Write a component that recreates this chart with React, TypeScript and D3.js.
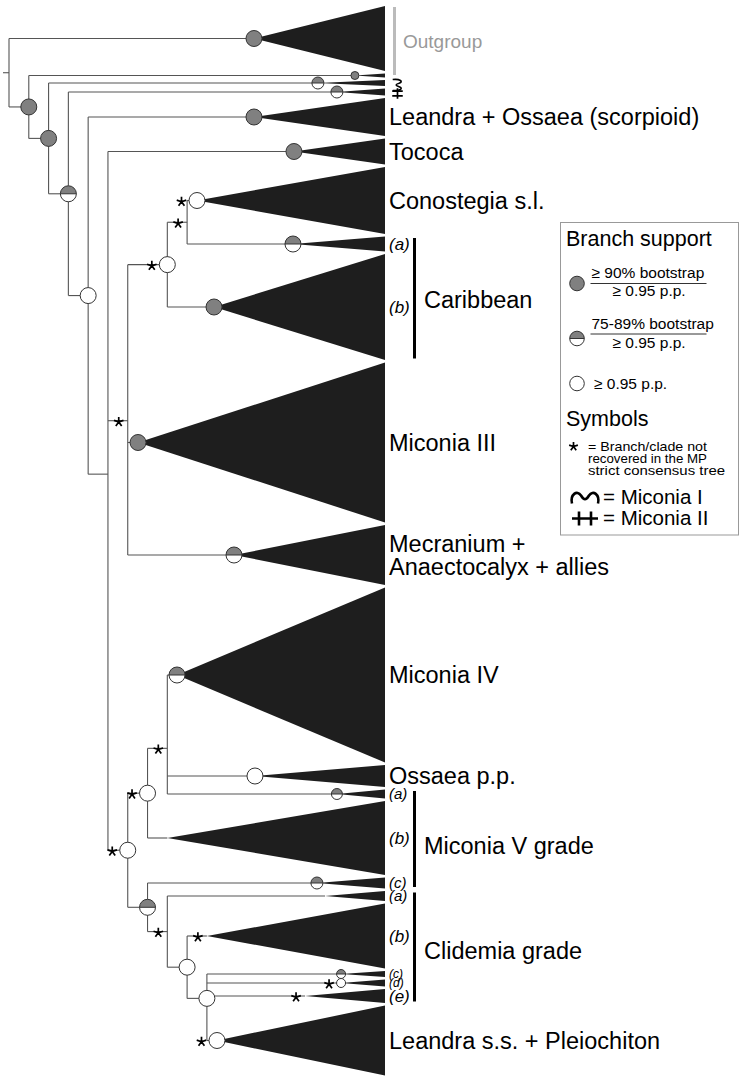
import React from "react";
import * as d3 from "d3";

const W = 744;
const H = 1083;
const FONT = "'Liberation Sans', Arial, Helvetica, sans-serif";

// ---- collapsed clades, top to bottom ----
const cladeIds = ["thin", "micI", "micII", "leandraScorp", "tococa", "conostegia", "caribA", "caribB", "micIII", "mecranium", "micIV", "ossaea", "micVa", "micVb", "micVc", "clidA", "clidB", "clidC", "clidD", "clidE", "leandraSS"];
const cladeParents = ["A", "B", "C", "D", "E", "Q", "Q", "P", "G", "G", "K", "K", "K", "I", "J", "L", "M", "N", "N", "N", "N"];
const cladeSizes = [4, 6, 7, 38, 26, 67, 15, 106, 160, 60, 175, 22, 9, 74, 11, 10, 65, 6, 7, 14, 70];
const cladeEnds = [17.48, 15.61, 16.57, 12.38, 14.4, 9.5, 14.35, 10.36, 6.52, 11.37, 8.49, 12.43, 16.57, 8.0, 15.56, 15.97, 10.0, 16.78, 16.78, 14.96, 10.51];
const cladeSupport = ["bs90", "bs75", "bs75", "bs90", "bs90", "pp", "bs75", "bs90", "bs90", "bs75", "bs75", "pp", "bs75", "", "bs75", "", "", "bs75", "pp", "", "pp"];
const cladeRadius = [4, 6, 6, 8, 8, 8, 8, 8, 8, 8, 8, 8, 5.5, 0, 6, 0, 0, 4.5, 4.5, 0, 8];
const cladeStar = [0, 0, 0, 0, 0, 1, 0, 0, 0, 0, 0, 0, 0, 0, 0, 0, 1, 0, 1, 1, 1];

// outgroup (first clade, attached to the root)
const outgroupSize = 65;
const outgroupEnd = 12.38;

// ---- internal nodes ----
const nodeIds = ["root", "A", "B", "C", "D", "E", "G", "P", "Q", "H", "I", "K", "J", "L", "M", "N"];
const nodeParents = ["", "root", "A", "B", "C", "D", "E", "G", "P", "E", "H", "I", "H", "J", "L", "M"];
const nodeLevels = [0, 1, 2, 3, 4, 5, 6, 8, 9, 6, 7, 8, 7, 8, 9, 10];
const nodeSupport = ["", "bs90", "bs90", "bs75", "pp", "", "", "pp", "", "pp", "pp", "", "bs75", "", "pp", "pp"];
const nodeStar = [0, 0, 0, 0, 0, 0, 1, 1, 1, 1, 1, 1, 0, 1, 0, 0];

// ---- labels ----
const labelClades = ["leandraScorp", "tococa", "conostegia", "micIII", "mecranium", "micIV", "ossaea", "leandraSS"];
const labelTexts = [["Leandra + Ossaea (scorpioid)"], ["Tococa"], ["Conostegia s.l."], ["Miconia III"], ["Mecranium +", "Anaectocalyx + allies"], ["Miconia IV"], ["Ossaea p.p."], ["Leandra s.s. + Pleiochiton"]];

const groupNames = ["Caribbean", "Miconia V grade", "Clidemia grade"];
const groupMembers = [["caribA", "caribB"], ["micVa", "micVb", "micVc"], ["clidA", "clidB", "clidC", "clidD", "clidE"]];
const groupSubLabels = [["(a)", "(b)"], ["(a)", "(b)", "(c)"], ["(a)", "(b)", "(c)", "(d)", "(e)"]];
const groupSubSizes = [[17, 17], [15, 17, 15], [15, 17, 12, 12, 17]];
const groupLabelShift = [2, 7, 4];

const GAP = 2.5;
const GREY = "#808080";
const MAIN_FS = 23.5;

function Support({ cx, cy, r, kind }: { cx: number; cy: number; r: number; kind: string }) {
  if (!kind || r <= 0) return null;
  if (kind === "bs90") return <circle cx={cx} cy={cy} r={r} fill={GREY} stroke="#333" strokeWidth={1} />;
  if (kind === "pp") return <circle cx={cx} cy={cy} r={r} fill="#fff" stroke="#333" strokeWidth={1} />;
  return (
    <g>
      <circle cx={cx} cy={cy} r={r} fill="#fff" />
      <path d={`M${cx - r},${cy} A${r},${r} 0 0 1 ${cx + r},${cy} Z`} fill={GREY} />
      <line x1={cx - r} x2={cx + r} y1={cy} y2={cy} stroke="#333" strokeWidth={1} />
      <circle cx={cx} cy={cy} r={r} fill="none" stroke="#333" strokeWidth={1} />
    </g>
  );
}

function Star({ x, y, s = 5 }: { x: number; y: number; s?: number }) {
  const d = [0, 72, 144, 216, 288]
    .map((a) => {
      const t = ((a - 90) * Math.PI) / 180;
      return `M${x},${y} L${x + s * Math.cos(t)},${y + s * Math.sin(t)}`;
    })
    .join(" ");
  return <path d={d} stroke="#000" strokeWidth={1.7} strokeLinecap="butt" fill="none" />;
}

const sym1 = "M-13,6 C-15,-3 -8,-8 -4,-2 C-1,3 1,3 4,-2 C8,-8 15,-3 13,6";
const sym2 = "M-13,0 H13 M-6,-7 V7 M6,-7 V7";

function Sym({ d, x, y, sx, sy, rot, sw }: { d: string; x: number; y: number; sx: number; sy: number; rot: number; sw: number }) {
  return (
    <path
      d={d}
      transform={`translate(${x},${y}) rotate(${rot}) scale(${sx},${sy})`}
      fill="none"
      stroke="#000"
      strokeWidth={sw}
      vectorEffect="non-scaling-stroke"
    />
  );
}

export default function App() {
  const allSizes = [outgroupSize, ...cladeSizes];
  const totalUnits = d3.sum(allSizes) + GAP * (allSizes.length - 1);
  const y = d3.scaleLinear().domain([0, totalUnits]).range([6, 6 + totalUnits]);
  const x = d3.scaleLinear().domain([0, 19]).range([9, 385]);
  const baseX = x(19);

  const tops: number[] = [];
  let acc = 0;
  allSizes.forEach((s) => {
    tops.push(acc);
    acc += s + GAP;
  });

  const rows: any[] = [];
  nodeIds.forEach((id, i) =>
    rows.push({ id, parent: nodeParents[i] || null, tip: false, level: nodeLevels[i], support: nodeSupport[i], r: nodeSupport[i] ? 8 : 0, star: nodeStar[i] })
  );
  rows.push({ id: "outgroup", parent: "root", tip: true, end: outgroupEnd, top: tops[0], size: outgroupSize, support: "bs90", r: 8, star: 0 });
  cladeIds.forEach((id, i) =>
    rows.push({ id, parent: cladeParents[i], tip: true, end: cladeEnds[i], top: tops[i + 1], size: cladeSizes[i], support: cladeSupport[i], r: cladeRadius[i], star: cladeStar[i] })
  );

  const root = d3.stratify<any>().id((d) => d.id).parentId((d) => d.parent)(rows);
  const pos: Record<string, { x: number; y: number; y0?: number; y1?: number }> = {};
  root.eachAfter((n: any) => {
    const d = n.data;
    if (d.tip) {
      const y0 = y(d.top);
      const y1 = y(d.top + d.size);
      pos[d.id] = { x: x(d.end), y: (y0 + y1) / 2, y0, y1 };
    } else {
      pos[d.id] = { x: x(d.level), y: d3.mean(n.children, (c: any) => pos[c.data.id].y) as number };
    }
  });

  const nodes = root.descendants();
  const lineColor = "#555";

  return (
    <svg width={W} height={H} style={{ position: "absolute", left: 0, top: 0, background: "#fff" }} fontFamily={FONT}>
      <rect width={W} height={H} fill="#fff" />
      {/* branches */}
      <g stroke={lineColor} strokeWidth={1.1} fill="none">
        <line x1={pos.root.x - 6} x2={pos.root.x} y1={pos.root.y} y2={pos.root.y} />
        {nodes.map((n: any) => {
          const p = pos[n.data.id];
          const segs = [];
          if (n.parent) {
            const pp = pos[n.parent.data.id];
            segs.push(<line key="h" x1={pp.x} x2={p.x} y1={p.y} y2={p.y} />);
          }
          if (n.children) {
            const ys = n.children.map((c: any) => pos[c.data.id].y);
            segs.push(<line key="v" x1={p.x} x2={p.x} y1={d3.min(ys)} y2={d3.max(ys)} />);
          }
          return <g key={n.data.id}>{segs}</g>;
        })}
      </g>
      {/* collapsed clades */}
      <g fill="#1e1e1e">
        {nodes
          .filter((n: any) => n.data.tip)
          .map((n: any) => {
            const p = pos[n.data.id];
            return <path key={n.data.id} d={`M${p.x},${p.y} L${baseX},${p.y0} L${baseX},${p.y1} Z`} />;
          })}
      </g>
      {/* support symbols */}
      {nodes.map((n: any) => {
        const p = pos[n.data.id];
        return <Support key={n.data.id} cx={p.x} cy={p.y} r={n.data.r} kind={n.data.support} />;
      })}
      {/* asterisks */}
      {nodes
        .filter((n: any) => n.data.star)
        .map((n: any) => {
          const p = pos[n.data.id];
          const off = n.data.r > 0 ? n.data.r + 7.5 : 9;
          return <Star key={n.data.id} x={p.x - off} y={p.y + 1.2} />;
        })}

      {/* Outgroup label */}
      <line x1={394.5} x2={394.5} y1={pos.outgroup.y0! + 1} y2={pos.outgroup.y1! + 4} stroke="#bbb" strokeWidth={3} />
      <text x={403} y={pos.outgroup.y + 3 + 0.35 * 19} fontSize={19} fill="#999">
        Outgroup
      </text>

      {/* Miconia I / II symbols at tips */}
      <Sym d={sym1} x={397.5} y={pos.micI.y + 2} sx={0.42} sy={0.8} rot={90} sw={1.6} />
      <Sym d={sym2} x={397.5} y={pos.micII.y + 1.5} sx={0.4} sy={0.75} rot={90} sw={1.7} />

      {/* clade labels */}
      {labelClades.map((c, i) => {
        const lines = labelTexts[i];
        const lh = 23;
        const cy = pos[c].y;
        return lines.map((t, j) => (
          <text key={c + j} x={389} y={cy + (j - (lines.length - 1) / 2) * lh + 0.35 * MAIN_FS} fontSize={MAIN_FS} fill="#000">
            {t}
          </text>
        ));
      })}

      {/* grouped labels */}
      {groupNames.map((g, gi) => {
        const mem = groupMembers[gi];
        const top = pos[mem[0]].y0! + 1.5;
        const bot = pos[mem[mem.length - 1]].y1! - 1.5;
        const mid = (top + bot) / 2 + groupLabelShift[gi];
        return (
          <g key={g}>
            <line x1={414.5} x2={414.5} y1={top} y2={bot} stroke="#000" strokeWidth={3} />
            <text x={424} y={mid + 0.35 * MAIN_FS} fontSize={MAIN_FS}>
              {g}
            </text>
            {mem.map((m, mi) => {
              const fs = groupSubSizes[gi][mi];
              return (
                <text key={m} x={389} y={pos[m].y + 0.36 * fs} fontSize={fs} fontStyle="italic">
                  {groupSubLabels[gi][mi]}
                </text>
              );
            })}
          </g>
        );
      })}

      {/* legend */}
      <g>
        <rect x={560.5} y={222.5} width={178} height={312.5} fill="#fff" stroke="#999" strokeWidth={1} />
        <text x={566} y={246} fontSize={21.5}>Branch support</text>
        <Support cx={577} cy={283.5} r={7.3} kind="bs90" />
        <text x={591.5} y={277.5} fontSize={15.5}>≥ 90% bootstrap</text>
        <line x1={590.5} x2={706.5} y1={283.5} y2={283.5} stroke="#333" strokeWidth={1} />
        <text x={612.5} y={296} fontSize={15.5}>≥ 0.95 p.p.</text>
        <Support cx={577} cy={338.5} r={7.3} kind="bs75" />
        <text x={591.5} y={329.3} fontSize={15.5}>75-89% bootstrap</text>
        <line x1={590.5} x2={706.5} y1={334} y2={334} stroke="#333" strokeWidth={1} />
        <text x={612.5} y={348.3} fontSize={15.5}>≥ 0.95 p.p.</text>
        <Support cx={577} cy={383.5} r={7.3} kind="pp" />
        <text x={594} y={388.5} fontSize={15.5}>≥ 0.95 p.p.</text>
        <text x={566} y={426} fontSize={21.5}>Symbols</text>
        <Star x={573.5} y={446.5} s={4.6} />
        <text x={588} y={451} fontSize={13} textLength={119} lengthAdjust="spacingAndGlyphs">= Branch/clade not</text>
        <text x={588} y={463} fontSize={13} textLength={119} lengthAdjust="spacingAndGlyphs">recovered in the MP</text>
        <text x={588} y={475} fontSize={13} textLength={137} lengthAdjust="spacingAndGlyphs">strict consensus tree</text>
        <Sym d={sym1} x={585} y={497.5} sx={1} sy={1} rot={0} sw={2.6} />
        <text x={603} y={503.5} fontSize={20.5}>= Miconia I</text>
        <Sym d={sym2} x={585} y={518.5} sx={1} sy={1} rot={0} sw={2.6} />
        <text x={603} y={525} fontSize={20.5}>= Miconia II</text>
      </g>
    </svg>
  );
}
